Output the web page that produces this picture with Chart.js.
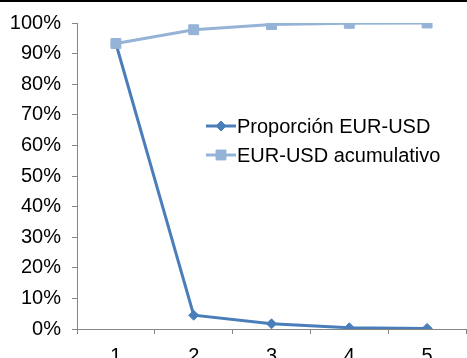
<!DOCTYPE html>
<html>
<head>
<meta charset="utf-8">
<script src="https://cdn.jsdelivr.net/npm/chart.js@4"></script>
<style>
  html, body { margin: 0; padding: 0; background: #fff; }
  #wrap { position: relative; width: 467px; height: 358px; overflow: hidden; }
  #topline { position: absolute; left: 0; top: 0; width: 467px; height: 2px; background: #000; }
  #myChart { position: absolute; left: 0; top: 0; }
</style>
</head>
<body>
<div id="wrap">
  <canvas id="myChart" width="467" height="375"></canvas>
  <div id="topline"></div>
</div>
<script>
var categories = ['1', '2', '3', '4', '5'];
var proporcion = [93.3, 4.5, 1.7, 0.4, 0.2];
var acumulativo = [93.3, 97.8, 99.5, 99.9, 100];
var seriesNames = ['Proporción EUR-USD', 'EUR-USD acumulativo'];

var fontFamily = '"Liberation Sans", Arial, sans-serif';
var fontSize = 20;
var axisColor = '#868686';

// excel style legend: short line with the marker on it
var excelLegend = {
    id: 'excelLegend',
    afterDraw: function (chart) {
        var c = chart.ctx;
        var x0 = 206, x1 = 236, y = 126, gap = 29;
        c.save();
        chart.data.datasets.forEach(function (ds, i) {
            var ly = y + i * gap;
            c.strokeStyle = ds.borderColor;
            c.lineWidth = ds.borderWidth;
            c.beginPath();
            c.moveTo(x0, ly);
            c.lineTo(x1, ly);
            c.stroke();
            c.fillStyle = ds.backgroundColor;
            c.lineWidth = 1;
            Chart.helpers.drawPoint(c, {
                pointStyle: ds.pointStyle,
                radius: ds.pointRadius,
                borderWidth: 1
            }, (x0 + x1) / 2, ly);
            c.fillStyle = '#000';
            c.font = fontSize + 'px ' + fontFamily;
            c.textBaseline = 'middle';
            c.textAlign = 'left';
            c.fillText(ds.label, x1 + 1, ly + 1);
        });
        c.restore();
    }
};

var ctx = document.getElementById('myChart').getContext('2d');
var myChart = new Chart(ctx, {
    type: 'line',
    data: {
        labels: categories,
        datasets: [{
            label: seriesNames[0],
            data: proporcion,
            order: 2,
            borderColor: '#4a7ebb',
            backgroundColor: '#4a7ebb',
            borderWidth: 3,
            pointStyle: 'rectRot',
            pointRadius: 5,
            pointBorderWidth: 1,
            pointBorderColor: '#4a7ebb',
            tension: 0
        }, {
            label: seriesNames[1],
            data: acumulativo,
            order: 1,
            borderColor: '#95b3d7',
            backgroundColor: '#95b3d7',
            borderWidth: 3,
            pointStyle: 'rect',
            pointRadius: 7,
            pointBorderWidth: 1,
            pointBorderColor: '#95b3d7',
            tension: 0
        }]
    },
    options: {
        responsive: false,
        animation: false,
        layout: { autoPadding: false, padding: { top: 20, right: 1, left: 0, bottom: 0 } },
        plugins: {
            legend: { display: false },
            tooltip: { enabled: false }
        },
        scales: {
            x: {
                offset: true,
                grid: { offset: true, drawOnChartArea: false, tickLength: 5, color: axisColor },
                border: { color: axisColor, width: 1 },
                ticks: { color: '#000', font: { family: fontFamily, size: fontSize }, padding: 10, maxRotation: 0 },
                afterFit: function (scale) {
                    scale.height = 46;
                    scale.paddingLeft = 0;
                    scale.paddingRight = 0;
                }
            },
            y: {
                min: 0,
                max: 100,
                ticks: {
                    stepSize: 10,
                    color: '#000',
                    font: { family: fontFamily, size: fontSize },
                    padding: 11,
                    callback: function (v) { return v + '%'; }
                },
                grid: { drawOnChartArea: false, tickLength: 5, color: axisColor },
                border: { color: axisColor, width: 1 },
                afterFit: function (scale) { scale.width = 77; }
            }
        }
    },
    plugins: [excelLegend]
});
</script>
</body>
</html>
